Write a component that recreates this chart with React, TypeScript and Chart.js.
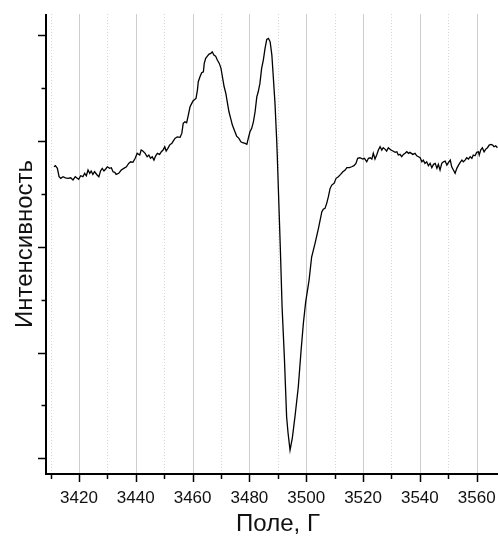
import React, { useEffect, useRef } from "react";
import { Chart, registerables } from "chart.js";

Chart.register(...registerables);

// Magnetic field, G
const fieldG: number[] = [
  3411.2, 3411.7, 3412.4, 3413.0, 3413.6, 3414.4, 3415.2, 3416.1, 3417.1, 3417.9,
  3418.7, 3419.4, 3419.9, 3420.6, 3421.4, 3422.0, 3422.6, 3423.2, 3423.8, 3424.3,
  3424.9, 3425.5, 3426.4, 3427.0, 3427.6, 3428.2, 3428.8, 3429.4, 3430.0, 3430.8,
  3431.4, 3432.0, 3432.6, 3433.1, 3434.0, 3434.9, 3435.8, 3436.7, 3437.5, 3438.2,
  3439.0, 3439.8, 3440.5, 3441.4, 3441.9, 3442.5, 3443.3, 3444.0, 3444.6, 3445.2,
  3445.8, 3446.4, 3447.0, 3447.6, 3448.4, 3449.0, 3449.6, 3450.2, 3450.7, 3451.3,
  3451.9, 3452.7, 3453.4, 3453.8, 3454.6, 3455.6, 3456.2, 3456.7, 3457.3, 3457.9,
  3458.5, 3459.1, 3459.7, 3460.2, 3461.2, 3461.7, 3462.0, 3462.6, 3463.2, 3463.8,
  3464.1, 3464.6, 3465.2, 3465.8, 3466.4, 3466.9, 3467.5, 3468.1, 3468.7, 3469.4,
  3470.0, 3470.5, 3471.1, 3471.7, 3472.2, 3472.8, 3473.4, 3474.0, 3474.9, 3475.5,
  3476.3, 3477.0, 3477.6, 3478.5, 3479.1, 3479.6, 3480.2, 3480.8, 3481.4, 3482.0,
  3482.6, 3483.1, 3483.7, 3484.3, 3484.9, 3485.5, 3486.1, 3486.7, 3487.3, 3487.9,
  3488.4, 3489.0, 3489.6, 3489.8, 3490.9, 3491.5, 3492.3, 3493.1, 3493.6, 3494.3,
  3495.1, 3496.1, 3497.2, 3498.2, 3499.0, 3499.8, 3501.0, 3501.9, 3503.1, 3504.3,
  3505.5, 3506.0, 3506.6, 3507.2, 3507.8, 3508.4, 3509.0, 3509.8, 3510.5, 3511.3,
  3512.1, 3512.9, 3513.7, 3514.3, 3515.2, 3516.0, 3516.8, 3517.5, 3518.1, 3518.9,
  3519.9, 3520.5, 3521.3, 3521.9, 3522.5, 3523.1, 3523.6, 3524.2, 3524.8, 3525.4,
  3526.0, 3526.6, 3527.1, 3527.7, 3528.3, 3528.9, 3529.8, 3530.5, 3531.3, 3531.9,
  3532.4, 3533.0, 3533.6, 3534.2, 3534.8, 3535.4, 3536.0, 3536.5, 3537.5, 3538.3,
  3538.9, 3539.5, 3540.1, 3540.7, 3541.2, 3541.8, 3542.4, 3543.0, 3543.6, 3544.2,
  3544.8, 3545.4, 3546.0, 3546.5, 3547.1, 3547.7, 3548.3, 3548.9, 3549.5, 3550.1,
  3550.7, 3551.2, 3551.8, 3552.4, 3553.0, 3553.6, 3554.2, 3554.8, 3555.3, 3555.9,
  3556.5, 3557.1, 3557.7, 3558.3, 3558.8, 3559.4, 3560.0, 3560.6, 3560.9, 3561.4,
  3562.0, 3562.6, 3563.2, 3563.8, 3564.4, 3565.0, 3565.6, 3566.1, 3566.7, 3567.3,
];

// Signal intensity, arbitrary units
const intensity: number[] = [
  27.56, 27.66, 27.41, 26.62, 26.47, 26.62, 26.52, 26.47, 26.52, 26.31,
  26.62, 26.47, 26.37, 26.71, 26.62, 26.94, 26.71, 27.25, 26.94, 27.16,
  26.84, 27.09, 26.78, 26.62, 27.16, 27.41, 27.16, 27.35, 27.56, 27.41,
  27.47, 27.09, 27.03, 26.84, 26.94, 27.25, 27.41, 27.56, 27.88, 28.03,
  27.98, 28.36, 28.83, 28.67, 29.14, 29.05, 28.83, 28.51, 28.67, 28.36,
  28.51, 28.19, 28.60, 28.83, 28.73, 28.98, 29.14, 29.45, 29.05, 29.30,
  29.61, 29.77, 30.08, 30.24, 30.39, 30.34, 30.71, 31.66, 31.81, 31.72,
  32.45, 33.23, 33.55, 33.80, 34.02, 34.81, 35.60, 36.07, 36.45, 36.54,
  37.33, 37.81, 38.02, 38.21, 38.28, 38.43, 38.12, 38.02, 37.65, 37.33,
  36.86, 36.07, 35.12, 34.50, 33.70, 32.76, 32.14, 31.50, 30.87, 30.46,
  30.24, 29.92, 29.83, 29.77, 29.68, 30.24, 30.87, 31.19, 31.81, 32.76,
  34.17, 34.65, 35.44, 36.86, 37.65, 38.75, 39.60, 39.69, 39.37, 38.12,
  36.07, 33.55, 30.08, 28.67, 19.69, 14.30, 9.57, 3.90, 2.39, 0.78,
  1.92, 4.09, 6.74, 10.24, 12.79, 14.77, 16.85, 19.03, 20.32, 21.74,
  23.31, 23.54, 23.63, 24.10, 24.73, 25.52, 25.83, 25.99, 26.47, 26.62,
  26.84, 27.09, 27.25, 27.47, 27.47, 27.56, 27.66, 27.88, 28.36, 28.41,
  28.29, 28.36, 28.03, 28.36, 28.41, 28.29, 28.83, 28.29, 28.67, 29.14,
  29.45, 29.14, 29.36, 29.23, 29.05, 29.36, 29.14, 29.05, 28.92, 28.98,
  28.67, 28.73, 28.51, 28.73, 28.83, 28.98, 28.83, 28.92, 28.73, 28.83,
  28.60, 28.51, 28.41, 28.03, 28.19, 27.88, 28.03, 27.66, 27.88, 27.47,
  27.79, 27.88, 27.41, 27.79, 27.25, 27.88, 28.03, 28.10, 27.72, 27.98,
  28.19, 27.56, 27.25, 26.94, 27.41, 27.72, 27.98, 28.19, 28.03, 28.19,
  28.41, 28.29, 28.51, 28.36, 28.67, 28.60, 28.92, 28.98, 28.67, 29.14,
  29.36, 28.98, 29.23, 29.36, 29.61, 29.68, 29.61, 29.45, 29.54, 29.36,
];

const xMajorTicks: number[] = [3420, 3440, 3460, 3480, 3500, 3520, 3540, 3560];
const xMinorTicks: number[] = [3410, 3430, 3450, 3470, 3490, 3510, 3530, 3550];
const yMajorTicks: number[] = [0, 10, 20, 30, 40];
const yMinorTicks: number[] = [5, 15, 25, 35];
const xRange: number[] = [3408.4, 3567.5];
const yRange: number[] = [-1.48, 42];
const xTitle = "Поле, Г";
const yTitle = "Интенсивность";

const FONT = "'Liberation Sans', Arial, Helvetica, sans-serif";

const axesPlugin = {
  id: "originAxes",
  beforeDatasetsDraw(chart: any) {
    const { ctx, chartArea, scales } = chart;
    const xs = scales.x;
    ctx.save();
    ctx.lineWidth = 1;
    ctx.strokeStyle = "#cdcdcd";
    ctx.setLineDash([]);
    for (const v of xMajorTicks) {
      const px = Math.round(xs.getPixelForValue(v)) + 0.5;
      ctx.beginPath();
      ctx.moveTo(px, chartArea.top);
      ctx.lineTo(px, chartArea.bottom);
      ctx.stroke();
    }
    ctx.strokeStyle = "#d6d6d6";
    ctx.setLineDash([1, 2]);
    for (const v of xMinorTicks) {
      const px = Math.round(xs.getPixelForValue(v)) + 0.5;
      ctx.beginPath();
      ctx.moveTo(px, chartArea.top);
      ctx.lineTo(px, chartArea.bottom);
      ctx.stroke();
    }
    ctx.restore();
  },
  afterDraw(chart: any) {
    const { ctx, chartArea, scales } = chart;
    const xs = scales.x;
    const ys = scales.y;
    const L = chartArea.left;
    const B = chartArea.bottom;
    ctx.save();
    ctx.setLineDash([]);
    ctx.strokeStyle = "#000";
    ctx.lineWidth = 2;
    ctx.beginPath();
    ctx.moveTo(L, chartArea.top);
    ctx.lineTo(L, B);
    ctx.lineTo(chartArea.right, B);
    ctx.stroke();
    ctx.lineWidth = 1.5;
    for (const v of xMajorTicks) {
      const px = Math.round(xs.getPixelForValue(v)) + 0.5;
      ctx.beginPath();
      ctx.moveTo(px, B);
      ctx.lineTo(px, B + 8);
      ctx.stroke();
    }
    for (const v of xMinorTicks) {
      const px = Math.round(xs.getPixelForValue(v)) + 0.5;
      ctx.beginPath();
      ctx.moveTo(px, B);
      ctx.lineTo(px, B + 5);
      ctx.stroke();
    }
    for (const v of yMajorTicks) {
      const py = Math.round(ys.getPixelForValue(v)) + 0.5;
      ctx.beginPath();
      ctx.moveTo(L, py);
      ctx.lineTo(L - 8, py);
      ctx.stroke();
    }
    for (const v of yMinorTicks) {
      const py = Math.round(ys.getPixelForValue(v)) + 0.5;
      ctx.beginPath();
      ctx.moveTo(L, py);
      ctx.lineTo(L - 4.5, py);
      ctx.stroke();
    }
    ctx.fillStyle = "#111";
    ctx.font = `17px ${FONT}`;
    ctx.textAlign = "center";
    ctx.textBaseline = "alphabetic";
    for (const v of xMajorTicks) {
      ctx.fillText(String(v), xs.getPixelForValue(v), B + 29);
    }
    ctx.font = `24px ${FONT}`;
    ctx.fillText(xTitle, 278, B + 57);
    ctx.save();
    ctx.translate(32, (chartArea.top + B) / 2);
    ctx.rotate(-Math.PI / 2);
    ctx.textAlign = "center";
    ctx.fillText(yTitle, 0, 0);
    ctx.restore();
    ctx.restore();
  },
};

export default function App() {
  const canvasRef = useRef<HTMLCanvasElement | null>(null);

  useEffect(() => {
    const canvas = canvasRef.current;
    if (!canvas) return;
    const points = fieldG.map((x, i) => ({ x, y: intensity[i] }));
    const chart = new Chart(canvas, {
      type: "line",
      data: {
        datasets: [
          {
            data: points,
            borderColor: "#000",
            borderWidth: 1.3,
            pointRadius: 0,
            tension: 0,
            fill: false,
          },
        ],
      },
      options: {
        responsive: false,
        animation: false,
        layout: { padding: { left: 46, top: 14, right: 0, bottom: 67 } },
        plugins: { legend: { display: false }, tooltip: { enabled: false } },
        scales: {
          x: { type: "linear", min: xRange[0], max: xRange[1], display: false },
          y: { type: "linear", min: yRange[0], max: yRange[1], display: false },
        },
      },
      plugins: [axesPlugin],
    });
    return () => chart.destroy();
  }, []);

  return (
    <div style={{ position: "absolute", left: 0, top: 0, width: 498, height: 541, background: "#fff" }}>
      <canvas ref={canvasRef} width={498} height={541} style={{ display: "block" }} />
    </div>
  );
}
